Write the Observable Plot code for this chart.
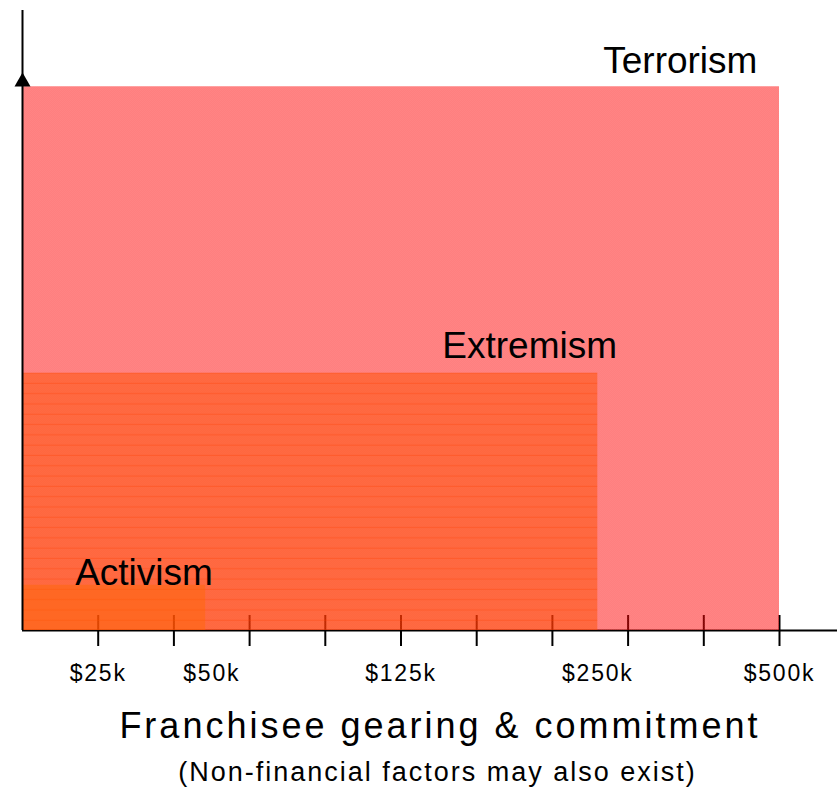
<!DOCTYPE html>
<html><head><meta charset="utf-8">
<script src="https://cdn.jsdelivr.net/npm/d3@7"></script>
<script src="https://cdn.jsdelivr.net/npm/@observablehq/plot@0.6"></script>
<style>
body{margin:0;background:#fff;font-family:"Liberation Sans",Arial,sans-serif;}
#wrap{position:relative;width:837px;height:792px;overflow:hidden;}
.t{position:absolute;left:0;text-align:center;color:#000;white-space:nowrap;}
#title{top:708px;width:880px;font-size:36px;line-height:36px;letter-spacing:3px;}
#sub{top:759px;width:875px;font-size:27px;line-height:27px;letter-spacing:2px;}
</style></head><body>
<div id="wrap"><div id="chart"></div>
<div class="t" id="title">Franchisee gearing &amp; commitment</div>
<div class="t" id="sub">(Non-financial factors may also exist)</div></div>
<script>
// ---- data (axis units: x = gearing steps 0..10, y = intensity 0..100) ----
const regions = ["Terrorism", "Extremism", "Activism"];
const regionReach = [10, 7.6, 2.42];
const regionLevel = [87.7, 41.5, 7.3];
const labelX = [8.69, 6.70, 1.605];
const labelY = [90.0, 43.9, 7.26];
const tickPositions = [1, 2, 3, 4, 5, 6, 7, 8, 9, 10];
const tickLabels = ["$25k", "$50k", "$125k", "$250k", "$500k"];
const tickLabelPositions = [1, 2.5, 5, 7.6, 10];
const axisTop = 100;
const arrowAt = 88.5;

const table = regions.map((name, i) => ({name, reach: regionReach[i], level: regionLevel[i], lx: labelX[i], ly: labelY[i]}));
const ticksTable = tickLabels.map((label, i) => ({label, pos: tickLabelPositions[i]}));

const rectFor = (name, fill) => Plot.rect(table.filter(d => d.name === name), {
  x1: 0, x2: "reach", y1: 0, y2: "level", fill, insetLeft: 1
});

const chart = Plot.plot({
  width: 837, height: 700, margin: 0,
  x: {domain: [0, 10], range: [22, 779], axis: null},
  y: {domain: [0, 100], range: [630, 10], axis: null},
  style: {fontFamily: '"Liberation Sans", Arial, sans-serif', background: "white", color: "black"},
  marks: [
    Plot.ruleY([0], {insetLeft: 22, stroke: "black", strokeWidth: 2}),
    Plot.ruleX(tickPositions, {insetTop: 615, insetBottom: 54, stroke: "black", strokeWidth: 2}),
    rectFor("Terrorism", "url(#pTerror)"),
    rectFor("Extremism", "url(#pExtreme)"),
    rectFor("Activism", "url(#pActive)"),
    Plot.ruleX([0], {y1: 0, y2: axisTop, stroke: "black", strokeWidth: 2}),
    Plot.dot([0], {x: d => d, y: () => arrowAt, symbol: "triangle", r: 5.94, fill: "black", stroke: "none"}),
    Plot.text(table, {x: "lx", y: "ly", text: "name", fontSize: 37, lineAnchor: "bottom", textAnchor: "middle", fill: "black"}),
    Plot.text(ticksTable, {x: "pos", text: "label", frameAnchor: "bottom", dy: -20, lineAnchor: "bottom", fontSize: 23, fill: "black"})
  ]
});

// tick label spacing (style only)
d3.select(chart).selectAll("text").filter(function () {
  return tickLabels.includes(this.textContent);
}).style("letter-spacing", "1.8px");

// patterns (fill styles only)
const ns = "http://www.w3.org/2000/svg";
const defs = document.createElementNS(ns, "defs");
defs.innerHTML = `
<pattern id="pTerror" patternUnits="userSpaceOnUse" width="2" height="2">
  <rect width="2" height="2" fill="rgba(255,0,0,0.5)"/>
  <rect width="1" height="1" fill="rgba(255,255,255,0.04)"/>
  <rect x="1" y="1" width="1" height="1" fill="rgba(255,255,255,0.04)"/>
</pattern>
<pattern id="pExtreme" patternUnits="userSpaceOnUse" width="2" height="10.3">
  <rect width="2" height="10.3" fill="rgba(255,80,0,0.5)"/>
  <rect y="1.7" width="2" height="1" fill="rgba(255,60,0,0.35)"/>
</pattern>
<pattern id="pActive" patternUnits="userSpaceOnUse" width="2" height="2">
  <rect width="2" height="2" fill="rgba(255,102,0,0.45)"/>
</pattern>`;
chart.insertBefore(defs, chart.firstChild);
document.getElementById("chart").appendChild(chart);
</script>
</body></html>
